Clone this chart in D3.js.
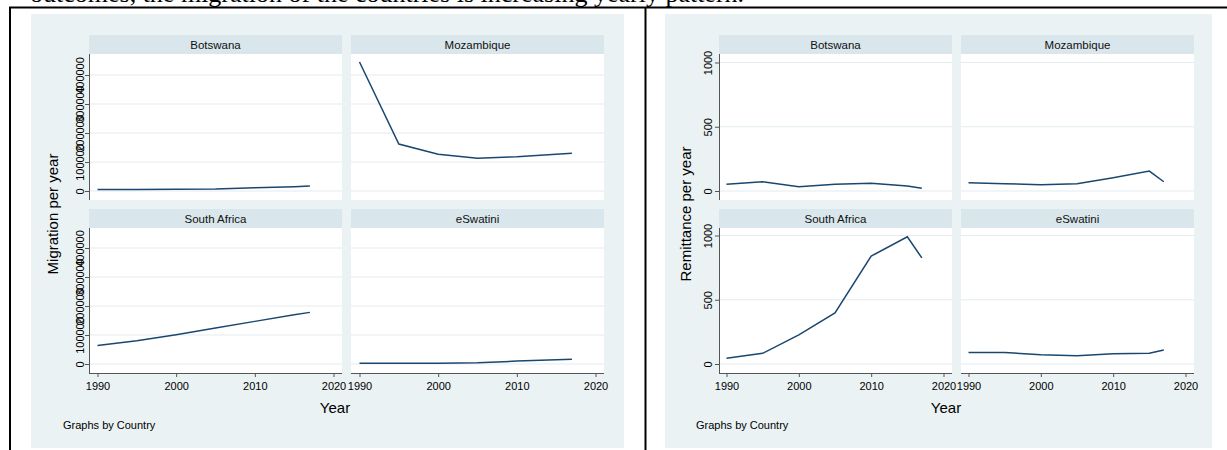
<!DOCTYPE html>
<html>
<head>
<meta charset="utf-8">
<script src="https://cdn.jsdelivr.net/npm/d3@7"></script>
<style>
  body { margin: 0; background: #fff; }
  svg { display: block; font-family: "Liberation Sans", Arial, sans-serif; }
</style>
</head>
<body>
<div id="chart"></div>
<script>
// datos (años del stock de migrantes)
const years = [1990, 1995, 2000, 2005, 2010, 2015, 2017];
const countries = ["Botswana", "Mozambique", "South Africa", "eSwatini"];

// migracion por año
const migBotswana = [5000, 5500, 6000, 7000, 11000, 15000, 17000];
const migMozambique = [445000, 162000, 127000, 113000, 118000, 127000, 130000];
const migSouthAfrica = [64000, 80000, 101000, 124000, 147000, 170000, 178000];
const migEswatini = [2500, 2500, 2500, 4000, 10000, 14500, 16000];

// remesas por año
const remBotswana = [52, 72, 33, 52, 60, 39, 21];
const remMozambique = [64, 57, 49, 57, 103, 155, 72];
const remSouthAfrica = [44, 83, 226, 397, 839, 990, 826];
const remEswatini = [90, 90, 72, 65, 80, 83, 109];

const xTicks = [1990, 2000, 2010, 2020];
const migTicks = [0, 100000, 200000, 300000, 400000];
const remTicks = [0, 500, 1000];

const W = 1227, H = 450;
const bg = "#eaf2f3", stripFill = "#d9e6eb", grid = "#e3ecf0", lineCol = "#1a476f";

const svg = d3.select("#chart").append("svg")
    .attr("width", W)
    .attr("height", H);

svg.append("rect").attr("width", W).attr("height", H).attr("fill", "#fff");

// texto cortado del documento arriba
svg.append("text")
    .attr("x", 30)
    .attr("y", 2)
    .attr("font-family", "'Liberation Serif', 'Times New Roman', serif")
    .attr("font-size", 26)
    .text("outcomes, the migration of the countries is increasing yearly pattern.");

// bordes de la tabla
svg.append("line").attr("x1", 9).attr("x2", W).attr("y1", 7.5).attr("y2", 7.5)
    .attr("stroke", "#000").attr("stroke-width", 2);
svg.append("line").attr("x1", 10).attr("x2", 10).attr("y1", 7).attr("y2", H)
    .attr("stroke", "#000").attr("stroke-width", 2);
svg.append("line").attr("x1", 645.5).attr("x2", 645.5).attr("y1", 7).attr("y2", H)
    .attr("stroke", "#000").attr("stroke-width", 2);

const stripTop = [35, 209];
const plotBottom = [200, 373];
const stripH = 19;

function dibujarGrafico(cfg) {
    const g = svg.append("g");

    g.append("rect")
        .attr("x", cfg.x0).attr("y", 14)
        .attr("width", cfg.x1 - cfg.x0).attr("height", 434)
        .attr("fill", bg);

    const x = d3.scaleLinear()
        .domain([1990, 2020])
        .range([cfg.xPad, cfg.xPad + cfg.xSpan]);

    countries.forEach((c, i) => {
        const col = i % 2, row = Math.floor(i / 2);
        const px = cfg.panelX[col];
        const top = stripTop[row] + stripH;
        const bottom = plotBottom[row];

        const y = d3.scaleLinear()
            .domain([0, cfg.yMax])
            .range([bottom - 9, bottom - 9 - cfg.yPix]);

        const p = g.append("g").attr("transform", `translate(${px},0)`);

        // franja con el nombre
        p.append("rect")
            .attr("y", stripTop[row]).attr("width", cfg.panelW).attr("height", stripH)
            .attr("fill", stripFill);
        p.append("text")
            .attr("x", cfg.panelW / 2).attr("y", stripTop[row] + stripH / 2)
            .attr("dy", "0.35em")
            .attr("text-anchor", "middle")
            .attr("font-size", 11.5)
            .attr("fill", "#111")
            .text(c);

        p.append("rect")
            .attr("y", top).attr("width", cfg.panelW).attr("height", bottom - top)
            .attr("fill", "#fff");

        // lineas de la cuadricula
        p.selectAll("line.grid")
            .data(cfg.yTicks)
            .join("line")
            .attr("class", "grid")
            .attr("x1", 0).attr("x2", cfg.panelW)
            .attr("y1", d => y(d)).attr("y2", d => y(d))
            .attr("stroke", grid).attr("stroke-width", 1.2);

        const line = d3.line()
            .x((d, k) => x(years[k]))
            .y(d => y(d));

        p.append("path")
            .datum(cfg.series[i])
            .attr("d", line)
            .attr("fill", "none")
            .attr("stroke", lineCol)
            .attr("stroke-width", 1.5);

        // eje y solo en la primera columna
        if (col === 0) {
            const ay = p.append("g")
                .call(d3.axisLeft(y).tickValues(cfg.yTicks).tickSize(4).tickFormat(d3.format("d")));
            ay.select(".domain").remove();
            ay.selectAll(".tick line").attr("stroke", "#555");
            ay.selectAll("text")
                .attr("x", null).attr("dy", null)
                .attr("transform", `translate(${cfg.labelOff},0) rotate(-90)`)
                .attr("text-anchor", "middle")
                .attr("font-size", 11)
                .attr("font-family", "'Liberation Sans', Arial, sans-serif")
                .attr("fill", "#000");
            p.append("line")
                .attr("x1", 0.5).attr("x2", 0.5).attr("y1", top).attr("y2", bottom)
                .attr("stroke", "#555").attr("stroke-width", 1);
        }

        // eje x solo en la fila de abajo
        if (row === 1) {
            const ax = p.append("g")
                .attr("transform", `translate(0,${bottom})`)
                .call(d3.axisBottom(x).tickValues(xTicks).tickSize(4).tickPadding(5).tickFormat(d3.format("d")));
            ax.select(".domain").remove();
            ax.selectAll(".tick line").attr("stroke", "#555");
            ax.selectAll("text")
                .attr("font-size", 11)
                .attr("font-family", "'Liberation Sans', Arial, sans-serif")
                .attr("fill", "#000");
            p.append("line")
                .attr("x1", 0).attr("x2", cfg.panelW).attr("y1", bottom + 0.5).attr("y2", bottom + 0.5)
                .attr("stroke", "#555").attr("stroke-width", 1);
        }
    });

    // titulos
    g.append("text")
        .attr("transform", `translate(${cfg.yTitleX},214) rotate(-90)`)
        .attr("dy", "0.35em")
        .attr("text-anchor", "middle")
        .attr("font-size", 15)
        .text(cfg.yTitle);

    g.append("text")
        .attr("x", cfg.yearX).attr("y", 408)
        .attr("dy", "0.35em")
        .attr("text-anchor", "middle")
        .attr("font-size", 15)
        .text("Year");

    g.append("text")
        .attr("x", cfg.noteX).attr("y", 425)
        .attr("dy", "0.35em")
        .attr("font-size", 11)
        .text("Graphs by Country");
}

dibujarGrafico({
    x0: 31, x1: 624,
    panelX: [89, 351], panelW: 253,
    xPad: 8.5, xSpan: 236,
    yMax: 400000, yPix: 116, yTicks: migTicks, labelOff: -5,
    series: [migBotswana, migMozambique, migSouthAfrica, migEswatini],
    yTitle: "Migration per year", yTitleX: 53,
    yearX: 335, noteX: 63
});

dibujarGrafico({
    x0: 665, x1: 1212,
    panelX: [719, 961], panelW: 233,
    xPad: 7.5, xSpan: 217,
    yMax: 1000, yPix: 128.5, yTicks: remTicks, labelOff: -7,
    series: [remBotswana, remMozambique, remSouthAfrica, remEswatini],
    yTitle: "Remittance per year", yTitleX: 686,
    yearX: 946, noteX: 696
});
</script>
</body>
</html>
